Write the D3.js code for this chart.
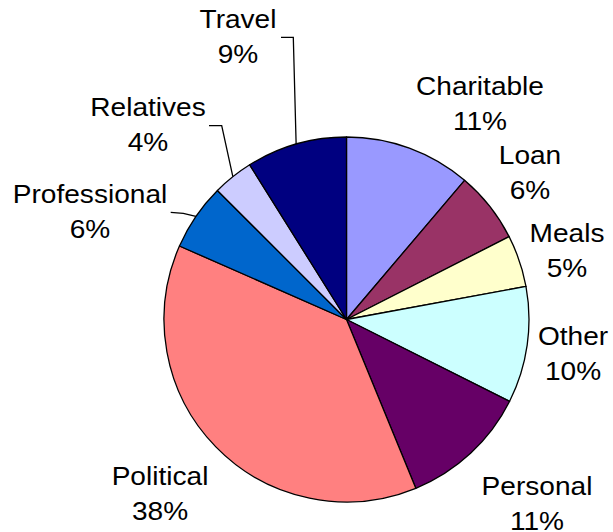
<!DOCTYPE html>
<html>
<head>
<meta charset="utf-8">
<script src="https://cdn.jsdelivr.net/npm/d3@7"></script>
<style>
  body { margin: 0; background: #fff; }
  text { font-family: Arial, "Liberation Sans", sans-serif; fill: #000; }
</style>
</head>
<body>
<div id="chart"></div>
<script>
(function () {
  let categories = ['Charitable', 'Loan', 'Meals', 'Other', 'Personal', 'Political', 'Professional', 'Relatives', 'Travel'];
  let values = [11.2, 6.3, 4.6, 10.3, 11.4, 37.8, 5.9, 3.6, 8.9];
  let colors = ['#9999FF', '#993366', '#FFFFCC', '#CCFFFF', '#660066', '#FF8080', '#0066CC', '#CCCCFF', '#000080'];

  // label placement (center x, first baseline y) - dragged by hand in the original
  let labelPos = {
    Charitable: [480, 95],
    Loan: [530, 164],
    Meals: [567, 242],
    Other: [573, 345],
    Personal: [537, 495],
    Political: [160, 485],
    Professional: [90, 203],
    Relatives: [148, 116],
    Travel: [238, 28]
  };
  // leader line bends for the labels that have one
  let leaders = {
    Travel: [[293.3, 37.3], [281, 37.3]],
    Relatives: [[221.7, 125.7], [209, 125.7]],
    Professional: [[183.3, 213.3], [170.7, 212.3]]
  };

  let width = 613,
    height = 532;
  let cx = 346.5, cy = 319.5, radius = 182.5;

  let svg = d3.select('#chart').append('svg')
    .attr('width', width)
    .attr('height', height);

  let total = d3.sum(values);
  let data = categories.map((c, i) => ({ name: c, value: values[i], color: colors[i] }));

  let pie = d3.pie()
    .sort(null)
    .value((d) => d.value);

  let arc = d3.arc()
    .innerRadius(0)
    .outerRadius(radius);

  let edge = d3.arc()
    .innerRadius(radius)
    .outerRadius(radius);

  let g = svg.append('g')
    .attr('transform', 'translate(' + cx + ',' + cy + ')');

  let arcs = pie(data);

  g.selectAll('path.slice')
    .data(arcs).enter()
    .append('path')
    .attr('class', 'slice')
    .attr('d', arc)
    .attr('fill', (d) => d.data.color)
    .attr('stroke', '#000')
    .attr('stroke-width', 1.3)
    .attr('stroke-linejoin', 'round');

  // leader lines
  let line = d3.line();
  svg.append('g').selectAll('path.leader')
    .data(arcs.filter((d) => leaders[d.data.name])).enter()
    .append('path')
    .attr('class', 'leader')
    .attr('fill', 'none')
    .attr('stroke', '#000')
    .attr('stroke-width', 1.3)
    .attr('d', (d) => {
      let c = edge.centroid(d);
      let pts = [[c[0] + cx, c[1] + cy]].concat(leaders[d.data.name]);
      return line(pts);
    });

  // original text is a bit wider than Liberation Sans, so stretch it horizontally
  let labels = svg.append('g').selectAll('text.label')
    .data(arcs).enter()
    .append('text')
    .attr('class', 'label')
    .attr('text-anchor', 'middle')
    .attr('transform', (d) => 'translate(' + labelPos[d.data.name][0] + ',0) scale(1.08,1)')
    .style('font-size', '26px');

  labels.append('tspan')
    .attr('x', 0)
    .attr('y', (d) => labelPos[d.data.name][1])
    .text((d) => d.data.name);

  labels.append('tspan')
    .attr('x', 0)
    .attr('y', (d) => labelPos[d.data.name][1] + 35.5)
    .text((d) => Math.round(d.data.value / total * 100) + '%');
})();
</script>
</body>
</html>
